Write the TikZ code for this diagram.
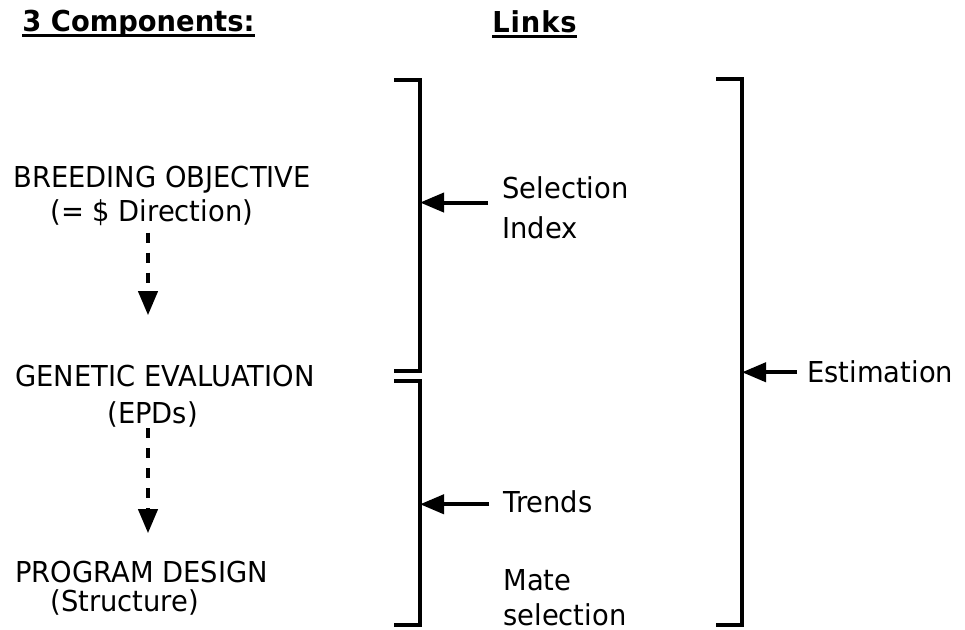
\documentclass[tikz,border=0pt]{standalone}
\usepackage{fontspec}
\setmainfont{DejaVu Sans}[FakeStretch=0.95]
\usepackage{tikz}
\usetikzlibrary{arrows.meta}
\newcommand{\ultext}[1]{\setbox0\hbox{#1}\rlap{\rule[-2.5pt]{\wd0}{1.5pt}}\box0}

\begin{document}
\begin{tikzpicture}[x=0.5pt, y=-0.5pt, font=\fontsize{14.4}{20}\selectfont,
  lbl/.style={inner sep=0pt, anchor=base west},
  multi/.style={inner sep=0pt, anchor=north west, align=left},
  head/.style={lbl, font=\fontsize{14.4}{16}\selectfont\bfseries},
  bracket/.style={line width=2pt},
  linkarrow/.style={line width=2pt, -{Triangle[length=12pt, width=9.5pt]}},
  flowarrow/.style={line width=2pt, dash pattern=on 5pt off 5pt,
    -{Triangle[length=12pt, width=9.5pt]}}]
  \useasboundingbox (0,0) rectangle (965,630);
  % headings
  \node[head] (comp) at (22,32) {\ultext{3 Components:}};
  \node[head] (links) at (492,33) {\ultext{\addfontfeature{LetterSpace=3}Links}};
  % components
  \coordinate (axis) at (148,0);
  \node[lbl] (obj) at (13,188) {BREEDING OBJECTIVE};
  \node[lbl] (objsub) at (50,222) {(= \$ Direction)};
  \node[lbl] (eval) at (15,387) {GENETIC EVALUATION};
  \node[lbl] (evalsub) at (107,424) {(EPDs)};
  \node[lbl] (design) at (15,583) {PROGRAM DESIGN};
  \node[lbl] (designsub) at (50,612) {(Structure)};
  \draw[flowarrow, shorten <=3pt, shorten >=25pt] (axis |- objsub.south) -- (axis |- eval.north);
  \draw[flowarrow, shorten >=14pt] (axis |- evalsub.south) -- (axis |- design.north);
  % brackets
  \coordinate (spineA) at (420,80);
  \coordinate (spineB) at (420,381);
  \coordinate (spineC) at (742,79);
  \draw[bracket] (394,80) -| (420,371) -- (394,371);
  \draw[bracket] (394,381) -| (420,625) -- (394,625);
  \draw[bracket] (716,79) -| (742,625) -- (716,625);
  % links
  \node[multi] (selidx) at (502,176) {Selection\\Index};
  \node[lbl] (trends) at (503,513) {Trends};
  \node[multi, font=\fontsize{14.4}{17.5}\selectfont] (mate) at (503,569) {Mate\\selection};
  \node[lbl] (est) at (807,383) {Estimation};
  \draw[linkarrow, shorten <=7pt] ([yshift=2.5pt]selidx.west) -- ([yshift=2.5pt]selidx.west -| spineA);
  \draw[linkarrow, shorten <=7pt] ([yshift=-1pt]trends.west) -- ([yshift=-1pt]trends.west -| spineB);
  \draw[linkarrow, shorten <=5pt] (est.west) -- (est.west -| spineC);
\end{tikzpicture}
\end{document}
